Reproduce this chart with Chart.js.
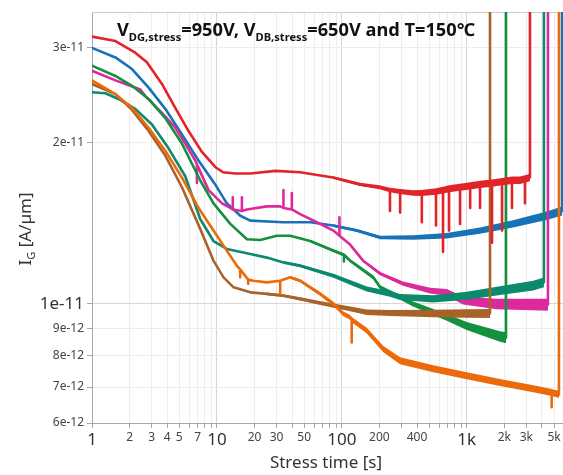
<!DOCTYPE html>
<html>
<head>
<meta charset="utf-8">
<title>Gate leakage under drain stress</title>
<script src="https://cdn.jsdelivr.net/npm/chart.js@4.4.1/dist/chart.umd.min.js"></script>
<style>
  html, body { margin: 0; padding: 0; background: #fff; }
  #chart { display: block; }
</style>
</head>
<body>
<canvas id="chart" width="563" height="475"></canvas>
<script>
// Gate current I_G [A/um] vs. stress time [s], one trace per device.
// Repeated times mark spikes / the final breakdown jump (last point = off-scale).
const redT = [1, 1.54, 2.22, 2.75, 3.63, 4.64, 5.93, 7.59, 9.69, 11.2, 14, 18.5, 29.5, 46.4, 85, 140, 200,
  243, 243, 243, 293, 293, 293, 372, 437, 437, 437, 568, 568, 568, 646, 646, 646, 722, 722, 722,
  884, 884, 884, 1066, 1066, 1066, 1278, 1278, 1278, 1594, 1594, 1594, 1918, 1918, 1918,
  2304, 2304, 2304, 2670, 2927, 2927, 2927, 3209, 3209];
const redI = [3.15e-11, 3.09e-11, 2.94e-11, 2.82e-11, 2.57e-11, 2.32e-11, 2.10e-11, 1.92e-11, 1.80e-11, 1.76e-11, 1.75e-11, 1.75e-11, 1.77e-11, 1.76e-11, 1.72e-11, 1.67e-11, 1.65e-11,
  1.63e-11, 1.49e-11, 1.63e-11, 1.62e-11, 1.48e-11, 1.62e-11, 1.61e-11, 1.61e-11, 1.42e-11, 1.61e-11, 1.62e-11, 1.40e-11, 1.62e-11, 1.63e-11, 1.25e-11, 1.63e-11, 1.64e-11, 1.37e-11, 1.64e-11,
  1.65e-11, 1.41e-11, 1.65e-11, 1.66e-11, 1.51e-11, 1.66e-11, 1.67e-11, 1.51e-11, 1.67e-11, 1.68e-11, 1.30e-11, 1.68e-11, 1.69e-11, 1.37e-11, 1.69e-11,
  1.70e-11, 1.51e-11, 1.70e-11, 1.70e-11, 1.71e-11, 1.54e-11, 1.71e-11, 1.72e-11, 5e-11];

const blueT = [1, 1.54, 2.09, 2.84, 3.86, 5.25, 7.13, 9.69, 12, 15.4, 18.5, 34, 56, 85, 132, 203, 372, 692, 1278, 2347, 4365, 5800, 5800];
const blueI = [3.00e-11, 2.88e-11, 2.74e-11, 2.53e-11, 2.31e-11, 2.07e-11, 1.85e-11, 1.67e-11, 1.54e-11, 1.46e-11, 1.43e-11, 1.42e-11, 1.42e-11, 1.40e-11, 1.37e-11, 1.33e-11, 1.33e-11, 1.34e-11, 1.37e-11, 1.41e-11, 1.46e-11, 1.49e-11, 5e-11];

const greenT = [1, 1.54, 2.09, 2.84, 3.86, 5.25, 7.35, 9.39, 12.8, 17.4, 22.2, 30.2, 38.6, 55.8, 85.7, 104, 104, 104, 116.5, 179, 203, 372, 692, 1000, 1847, 2063, 2063];
const greenI = [2.78e-11, 2.66e-11, 2.55e-11, 2.41e-11, 2.22e-11, 1.99e-11, 1.70e-11, 1.54e-11, 1.41e-11, 1.32e-11, 1.316e-11, 1.34e-11, 1.34e-11, 1.31e-11, 1.257e-11, 1.235e-11, 1.20e-11, 1.235e-11, 1.204e-11, 1.12e-11, 1.074e-11, 1.0e-11, 9.44e-12, 9.1e-12, 8.7e-12, 8.65e-12, 5e-11];

const magentaT = [1, 1.54, 2.44, 2.67, 3.63, 4.64, 5.58, 6.71, 6.92, 6.92, 6.92, 8.57, 11, 12.8, 13.4, 13.4, 13.4, 15.85, 15.85, 15.85,
  17.4, 25.1, 32.1, 34.1, 34.1, 34.1, 39.8, 39.8, 39.8, 46.4, 63.1, 85.7, 95.7, 95.7, 95.7,
  116.5, 148, 203, 309, 509, 692, 934, 1738, 3858, 4470, 4470];
const magentaI = [2.72e-11, 2.61e-11, 2.51e-11, 2.44e-11, 2.27e-11, 2.13e-11, 1.99e-11, 1.85e-11, 1.82e-11, 1.68e-11, 1.82e-11, 1.63e-11, 1.54e-11, 1.51e-11, 1.50e-11, 1.58e-11, 1.50e-11, 1.49e-11, 1.58e-11, 1.49e-11,
  1.50e-11, 1.52e-11, 1.52e-11, 1.51e-11, 1.63e-11, 1.51e-11, 1.50e-11, 1.61e-11, 1.50e-11, 1.47e-11, 1.42e-11, 1.37e-11, 1.34e-11, 1.45e-11, 1.34e-11,
  1.29e-11, 1.204e-11, 1.139e-11, 1.091e-11, 1.059e-11, 1.051e-11, 1.014e-11, 1.0e-11, 9.97e-12, 9.97e-12, 5e-11];

const tealT = [1, 1.28, 1.63, 2.22, 3.02, 4.1, 5.58, 7.35, 9.39, 12, 18.5, 25.1, 34.1, 46.4, 63.1, 85.7, 116.5, 158.5, 243, 293, 540, 1000, 1847, 3410, 4150, 4150];
const tealI = [2.48e-11, 2.47e-11, 2.41e-11, 2.31e-11, 2.16e-11, 1.95e-11, 1.73e-11, 1.44e-11, 1.31e-11, 1.266e-11, 1.239e-11, 1.22e-11, 1.195e-11, 1.178e-11, 1.153e-11, 1.129e-11, 1.097e-11, 1.066e-11, 1.044e-11, 1.03e-11, 1.022e-11, 1.036e-11, 1.059e-11, 1.082e-11, 1.097e-11, 5e-11];

const orangeT = [1, 1.54, 2.09, 2.84, 3.86, 5.25, 7.13, 9.39, 12, 14.45, 15.36, 15.36, 15.36, 17.8, 17.8, 17.8, 19.6, 25.1,
  32.1, 32.1, 32.1, 38.6, 46.4, 55.8, 67.1, 85.7, 103, 116.5, 120, 120, 120, 158.5, 215, 293, 540, 1000, 1847, 3410,
  4786, 4786, 4786, 5250, 5475, 5475];
const orangeI = [2.61e-11, 2.46e-11, 2.32e-11, 2.13e-11, 1.93e-11, 1.72e-11, 1.51e-11, 1.37e-11, 1.257e-11, 1.178e-11, 1.16e-11, 1.121e-11, 1.16e-11, 1.11e-11, 1.09e-11, 1.11e-11, 1.105e-11, 1.097e-11,
  1.105e-11, 1.045e-11, 1.105e-11, 1.121e-11, 1.105e-11, 1.074e-11, 1.044e-11, 1.0e-11, 9.58e-12, 9.44e-12, 9.35e-12, 8.48e-12, 9.3e-12, 8.92e-12, 8.24e-12, 7.84e-12, 7.57e-12, 7.35e-12, 7.14e-12, 6.95e-12,
  6.84e-12, 6.42e-12, 6.84e-12, 6.80e-12, 6.78e-12, 5e-11];

const brownT = [1, 1.54, 2.09, 2.84, 3.86, 5.25, 7.35, 9.39, 11.3, 13.6, 18.5, 25.1, 34.1, 46.4, 63.1, 85.7, 116.5, 158.5, 243, 540, 1000, 1536, 1536];
const brownI = [2.57e-11, 2.46e-11, 2.30e-11, 2.10e-11, 1.89e-11, 1.65e-11, 1.38e-11, 1.204e-11, 1.121e-11, 1.074e-11, 1.051e-11, 1.044e-11, 1.036e-11, 1.022e-11, 1.007e-11, 9.93e-12, 9.79e-12, 9.65e-12, 9.62e-12, 9.6e-12, 9.6e-12, 9.6e-12, 5e-11];

// axis ticks
const timeTicks = [1, 2, 3, 4, 5, 6, 7, 8, 9, 10, 20, 30, 40, 50, 60, 70, 80, 90,
  100, 200, 300, 400, 500, 600, 700, 800, 900, 1000, 2000, 3000, 4000, 5000];
const timeLabels = ['1', '2', '3', '4', '5', '', '7', '', '', '10', '20', '30', '', '50', '', '', '', '',
  '100', '200', '', '400', '', '', '', '', '', '1k', '2k', '3k', '', '5k'];
const decades = [1, 10, 100, 1000];
const currentTicks = [6e-12, 7e-12, 8e-12, 9e-12, 1e-11, 2e-11, 3e-11];
const currentLabels = ['6e-12', '7e-12', '8e-12', '9e-12', '1e-11', '2e-11', '3e-11'];

const FONT = '"Noto Sans", "DejaVu Sans", sans-serif';

// drawing order: first entry ends up on top
// bands = [time, thickness px] stops for the noise envelope of the long-time traces
const series = [
  { t: redT, i: redI, color: '#e1242a', bands: [[100, 2.6], [300, 5], [700, 7], [3300, 7.5]] },
  { t: orangeT, i: orangeI, color: '#ec6a0b', bands: [[40, 2.6], [120, 5], [300, 7], [5500, 7]] },
  { t: brownT, i: brownI, color: '#a8632a', bands: [[30, 2.6], [120, 5], [400, 7], [1600, 9]] },
  { t: tealT, i: tealI, color: '#0c8a6d', bands: [[40, 2.8], [150, 5], [500, 7], [4200, 10]] },
  { t: greenT, i: greenI, color: '#13913f', bands: [[60, 2.6], [200, 4], [600, 6], [2100, 11]] },
  { t: magentaT, i: magentaI, color: '#dc2a9c', bands: [[150, 2.6], [400, 5], [1000, 8], [2000, 11], [4500, 12]] },
  { t: blueT, i: blueI, color: '#1872b7', bands: [[100, 2.6], [250, 4], [1000, 6], [6000, 9]] }
];

function widthAt(stops, t) {
  if (t <= stops[0][0]) return stops[0][1];
  for (let k = 1; k < stops.length; k++) {
    if (t <= stops[k][0]) {
      const [t0, w0] = stops[k - 1], [t1, w1] = stops[k];
      return w0 + (w1 - w0) * Math.log(t / t0) / Math.log(t1 / t0);
    }
  }
  return stops[stops.length - 1][1];
}

const datasets = series.map(function (s) {
  return {
    data: s.t.map((t, k) => ({ x: t, y: s.i[k] })),
    borderColor: s.color,
    borderWidth: 2.6,
    borderCapStyle: 'round',
    borderJoinStyle: 'round',
    pointRadius: 0,
    tension: 0
  };
});

// noise envelope: filled strip around the trace, built from the library's point positions
const noiseBands = {
  id: 'noiseBands',
  beforeDatasetDraw(chart, args) {
    const s = series[args.index], pts = args.meta.data, ctx = chart.ctx, area = chart.chartArea;
    const upper = [], lower = [];
    s.t.forEach(function (t, k) {
      if (k > 0 && t === s.t[k - 1]) return; // skip spike tips and the breakdown jump
      if (t < s.bands[0][0] && !(k + 1 < s.t.length && s.t[k + 1] >= s.bands[0][0])) return;
      const h = widthAt(s.bands, t) / 2;
      upper.push([pts[k].x, pts[k].y - h]);
      lower.push([pts[k].x, pts[k].y + h]);
    });
    if (upper.length < 2) return;
    ctx.save();
    ctx.beginPath();
    ctx.rect(area.left, area.top, area.right - area.left, area.bottom - area.top);
    ctx.clip();
    ctx.fillStyle = s.color;
    ctx.beginPath();
    upper.forEach((p, k) => k ? ctx.lineTo(p[0], p[1]) : ctx.moveTo(p[0], p[1]));
    lower.reverse().forEach(p => ctx.lineTo(p[0], p[1]));
    ctx.closePath();
    ctx.fill();
    ctx.restore();
  }
};

// title with subscripts, rotated y title, x title, top frame line
function drawRuns(ctx, runs, x, y) {
  runs.forEach(function (r) {
    ctx.font = r.font;
    ctx.fillText(r.text, x, y + (r.dy || 0));
    x += ctx.measureText(r.text).width;
  });
}
function runsWidth(ctx, runs) {
  return runs.reduce(function (w, r) { ctx.font = r.font; return w + ctx.measureText(r.text).width; }, 0);
}

const decorations = {
  id: 'decorations',
  beforeDatasetsDraw(chart) {
    const ctx = chart.ctx, area = chart.chartArea;
    ctx.save();
    ctx.strokeStyle = '#cdcdcd';
    ctx.lineWidth = 1;
    ctx.beginPath();
    ctx.moveTo(area.left, area.top + 0.5);
    ctx.lineTo(area.right, area.top + 0.5);
    ctx.stroke();
    ctx.restore();
  },
  afterDraw(chart) {
    const ctx = chart.ctx;
    ctx.save();
    ctx.fillStyle = '#111';
    ctx.textBaseline = 'alphabetic';
    const big = '700 18px ' + FONT, sub = '700 11px ' + FONT;
    const title = [
      { text: 'V', font: big }, { text: 'DG,stress', font: sub, dy: 5 },
      { text: '=950V, V', font: big }, { text: 'DB,stress', font: sub, dy: 5 },
      { text: '=650V and T=150\u2103', font: big }
    ];
    const w = runsWidth(ctx, title);
    ctx.translate(117, 0);
    ctx.scale(358 / w, 1);
    drawRuns(ctx, title, 0, 36);
    ctx.restore();

    ctx.save();
    ctx.fillStyle = '#333';
    const yTitle = [
      { text: 'I', font: '17px ' + FONT }, { text: 'G', font: '11px ' + FONT, dy: 4 },
      { text: ' [A/\u00b5m]', font: '17px ' + FONT }
    ];
    const yw = runsWidth(ctx, yTitle);
    ctx.translate(31, 229);
    ctx.rotate(-Math.PI / 2);
    drawRuns(ctx, yTitle, -yw / 2, 0);
    ctx.restore();

    ctx.save();
    ctx.fillStyle = '#333';
    ctx.font = '17px ' + FONT;
    ctx.textAlign = 'center';
    ctx.textBaseline = 'middle';
    ctx.fillText('Stress time [s]', 326, 463);
    ctx.restore();
  }
};

const smallTick = { family: FONT, size: 12 };
const bigTick = { family: FONT, size: 17 };

new Chart(document.getElementById('chart'), {
  type: 'line',
  data: { datasets: datasets },
  plugins: [noiseBands, decorations],
  options: {
    responsive: false,
    animation: false,
    devicePixelRatio: 1,
    layout: { padding: { top: 12, right: 0, left: 0, bottom: 0 } },
    plugins: { legend: { display: false }, tooltip: { enabled: false }, title: { display: false } },
    scales: {
      x: {
        type: 'logarithmic',
        min: 1,
        max: 5900,
        afterBuildTicks: function (s) { s.ticks = timeTicks.map(v => ({ value: v })); },
        afterFit: function (s) { s.height = 52; s.paddingLeft = 0; s.paddingRight = 0; },
        border: { color: '#a8a8a8', width: 1 },
        grid: {
          color: c => (c.tick && decades.includes(c.tick.value)) ? '#d6d6d6' : '#ededed',
          tickColor: '#a8a8a8',
          tickLength: 5
        },
        ticks: {
          autoSkip: false,
          maxRotation: 0,
          minRotation: 0,
          padding: 2,
          color: c => (c.tick && decades.includes(c.tick.value)) ? '#333' : '#444',
          font: c => (c.tick && decades.includes(c.tick.value)) ? bigTick : smallTick,
          callback: (v, i) => timeLabels[i]
        }
      },
      y: {
        type: 'logarithmic',
        min: 6e-12,
        max: 3.5e-11,
        afterBuildTicks: function (s) { s.ticks = currentTicks.map(v => ({ value: v })); },
        afterFit: function (s) { s.width = 92; s.paddingTop = 0; s.paddingBottom = 0; },
        border: { color: '#a8a8a8', width: 1 },
        grid: {
          color: c => (c.tick && c.tick.value === 1e-11) ? '#d6d6d6' : '#ededed',
          tickColor: '#a8a8a8',
          tickLength: 5
        },
        ticks: {
          autoSkip: false,
          padding: 3,
          color: c => (c.tick && c.tick.value === 1e-11) ? '#333' : '#444',
          font: c => (c.tick && c.tick.value === 1e-11) ? bigTick : smallTick,
          callback: (v, i) => currentLabels[i]
        }
      }
    }
  }
});
</script>
</body>
</html>
